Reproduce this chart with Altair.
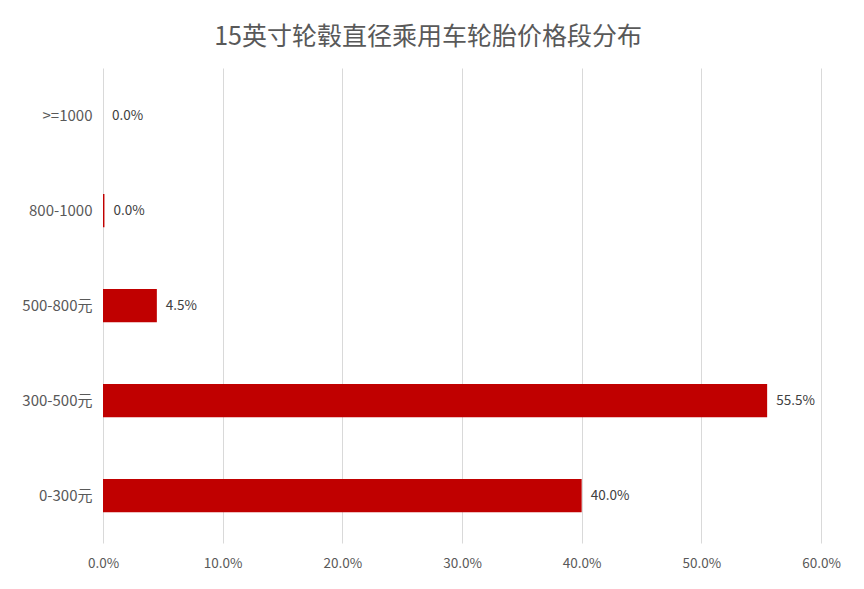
import altair as alt
import pandas as pd

categories = [">=1000", "800-1000", "500-800元", "300-500元", "0-300元"]
values = [0.0, 0.12, 4.5, 55.5, 40.0]
labels = ["0.0%", "0.0%", "4.5%", "55.5%", "40.0%"]
x_ticks = [0, 10, 20, 30, 40, 50, 60]

df = pd.DataFrame({"cat": categories, "val": values, "lab": labels})

FONT = "Noto Sans CJK SC"

y_enc = alt.Y("cat:N", sort=categories, title=None,
              scale=alt.Scale(paddingInner=0.65, paddingOuter=0.325),
              axis=alt.Axis(domain=False, ticks=False, grid=False,
                            labelFontSize=15, labelColor="#595959",
                            labelFont=FONT, labelPadding=11))
x_enc = alt.X("val:Q", title=None,
              scale=alt.Scale(domain=[0, 60], nice=False),
              axis=alt.Axis(values=x_ticks, domain=False, ticks=False,
                            grid=True, gridColor="#d9d9d9", labelFlush=False,
                            labelExpr="format(datum.value, '.1f') + '%'",
                            labelFontSize=13.5, labelColor="#595959",
                            labelFont=FONT, labelPadding=13))

bars = alt.Chart(df).mark_bar(color="#c00000").encode(x=x_enc, y=y_enc)
text = alt.Chart(df).mark_text(align="left", dx=9, fontSize=13.5,
                               color="#404040", font=FONT).encode(
    x="val:Q", y=alt.Y("cat:N", sort=categories), text="lab:N")

chart = (bars + text).properties(
    width=718, height=475,
    autosize=alt.AutoSizeParams(type="none"),
    padding={"left": 95, "top": 60, "right": 35, "bottom": 40},
    title=alt.TitleParams("15英寸轮毂直径乘用车轮胎价格段分布", fontSize=25,
                          font=FONT, color="#595959", fontWeight="normal",
                          anchor="middle", dx=-34, offset=18),
).configure_view(stroke=None)

chart.save("out.html", embed_options={"renderer": "svg", "actions": False})
